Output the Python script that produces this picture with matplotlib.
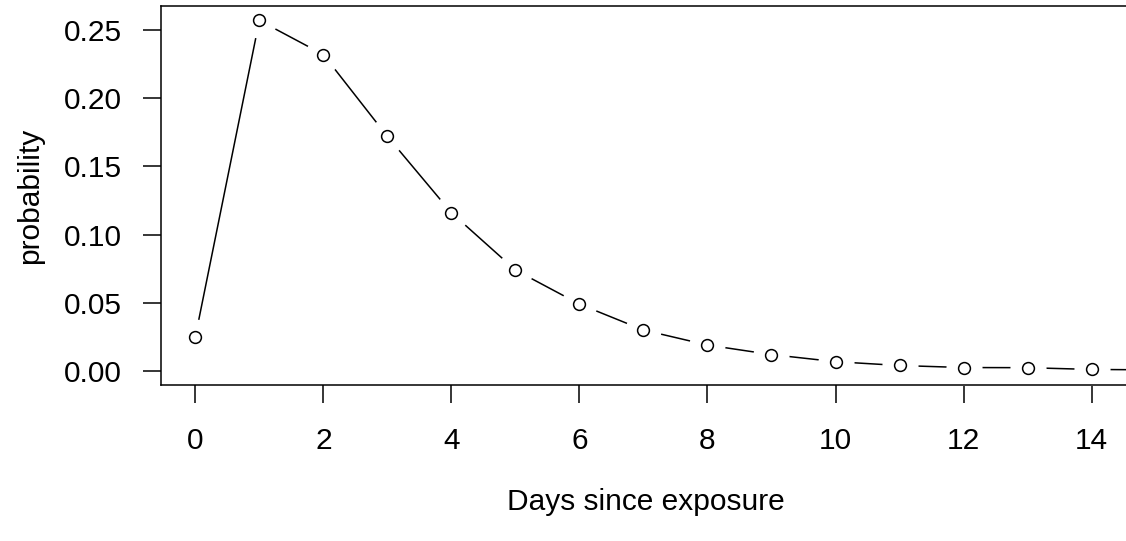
import numpy as np
import matplotlib
matplotlib.use("Agg")
from matplotlib import pyplot as plt

# days since exposure and probability
days = [0, 1, 2, 3, 4, 5, 6, 7, 8, 9, 10, 11, 12, 13, 14, 15]
prob = [0.025, 0.257, 0.232, 0.172, 0.116, 0.074, 0.049, 0.030,
        0.019, 0.012, 0.0068, 0.0040, 0.0025, 0.0024, 0.0011, 0.0008]
xticks = [0, 2, 4, 6, 8, 10, 12, 14]
yticks = [0.00, 0.05, 0.10, 0.15, 0.20, 0.25]

plt.rcParams['font.family'] = ['Liberation Sans', 'DejaVu Sans']

fig = plt.figure(figsize=(11.26, 5.41), dpi=100)
# axes box runs off the right edge, like the cropped original
ax = fig.add_axes([161 / 1126, 156 / 541, 969 / 1126, 379 / 541])

# R type="b": line with gaps around each point
ax.plot(days, prob, color='black', lw=1.1, zorder=2)
ax.plot(days, prob, ls='none', marker='o', ms=26, mfc='white', mec='none', zorder=2.1)
ax.plot(days, prob, ls='none', marker='o', ms=8.5, mfc='white', mec='black', mew=1.1, zorder=2.2)

ax.set_xlim(-0.536, 14.6)
ax.set_ylim(-0.0103, 0.2676)
ax.set_xticks(xticks)
ax.set_yticks(yticks)
ax.set_yticklabels(['%.2f' % v for v in yticks])
ax.tick_params(axis='both', direction='out', length=13, width=1.1, labelsize=21.5, colors='black')
ax.tick_params(axis='x', pad=17)
ax.tick_params(axis='y', pad=15)
for s in ax.spines.values():
    s.set_linewidth(1.1)

ax.set_xlabel('Days since exposure', fontsize=21.5, va='center')
ax.xaxis.set_label_coords(0.5, (385 - 502) / 379)
ax.set_ylabel('probability', fontsize=21.5, va='center')
ax.yaxis.set_label_coords((30 - 161) / 969, 0.5)

fig.savefig('out.png', dpi=100)
